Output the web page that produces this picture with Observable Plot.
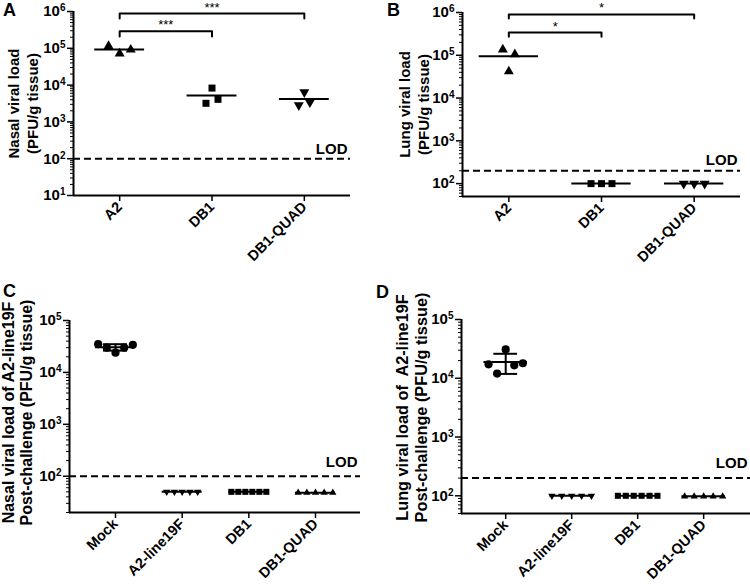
<!DOCTYPE html>
<html><head><meta charset="utf-8">
<script src="https://cdn.jsdelivr.net/npm/d3@7"></script>
<script src="https://cdn.jsdelivr.net/npm/@observablehq/plot@0.6"></script>
<style>
body{margin:0;background:#fff;}
#root{position:relative;width:750px;height:585px;overflow:hidden;font-family:"Liberation Sans",Arial,sans-serif;}
.panel{position:absolute;}
.letter{position:absolute;font:bold 18px "Liberation Sans",Arial,sans-serif;line-height:18px;}
</style></head><body><div id="root"></div>
<script>
// ---------- DATA ----------
// Panel A: nasal viral load
const groupsA = ["A2", "DB1", "DB1-QUAD"];
const valuesA = [[1.15e5, 7.2e4, 9.2e4], [3.2e3, 8.3e3, 4.1e3], [2.85e3, 6.4e3, 3.4e3]];
const symbolsA = ["triangle", "square", "triangleDown"];
const bracketsA = [
  {from: "A2", to: "DB1", label: "***", level: 2.9e5, tip: 2.1e5},
  {from: "A2", to: "DB1-QUAD", label: "***", level: 8.8e5, tip: 6.5e5}
];
const lodA = 100;

// Panel B: lung viral load
const groupsB = ["A2", "DB1", "DB1-QUAD"];
const valuesB = [[1.36e5, 4.2e4, 1.05e5], [100, 100, 100], [100, 100, 100]];
const symbolsB = ["triangle", "square", "triangleDown"];
const bracketsB = [
  {from: "A2", to: "DB1", label: "*", level: 3.4e5, tip: 2.7e5},
  {from: "A2", to: "DB1-QUAD", label: "*", level: 9e5, tip: 7.2e5}
];
const lodB = 200;

// Panel C: nasal viral load post-challenge
const groupsC = ["Mock", "A2-line19F", "DB1", "DB1-QUAD"];
const valuesC = [[3.5e4, 3.0e4, 2.4e4, 3.0e4, 3.4e4], [50, 50, 50, 50, 50], [50, 50, 50, 50, 50, 50], [48, 48, 48, 48, 48]];
const symbolsC = ["circle", "triangleDown", "square", "triangle"];
const lodC = 100;

// Panel D: lung viral load post-challenge
const groupsD = ["Mock", "A2-line19F", "DB1", "DB1-QUAD"];
const valuesD = [[1.73e4, 1.2e4, 3.1e4, 1.66e4, 1.8e4], [100, 100, 100, 100, 100], [100, 100, 100, 100, 100, 100], [98, 98, 98, 98, 98]];
const symbolsD = ["circle", "triangleDown", "square", "triangle"];
const lodD = 200;

// ---------- DRAWING ----------
const triangleDown = {
  draw(context, size) {
    const y = -Math.sqrt(size / (Math.sqrt(3) * 3));
    context.moveTo(0, -2 * y);
    context.lineTo(-Math.sqrt(3) * y, y);
    context.lineTo(Math.sqrt(3) * y, y);
    context.closePath();
  }
};
const symbolMap = {triangle: "triangle", square: "square", circle: "circle", triangleDown};
const FONT = '"Liberation Sans", Arial, sans-serif';

function makePanel(cfg) {
  const n = cfg.groups.length;
  const [y0, y1] = cfg.yDomain;
  const [x0, x1] = cfg.xDomain;
  const stats = cfg.values.map(vs => ({mean: d3.mean(vs), sd: d3.deviation(vs) || 0}));
  const marks = [];
  // LOD dashed line
  marks.push(Plot.ruleY([cfg.lod], {y: d => d, x1: () => x0, x2: () => x1, stroke: "black", strokeWidth: 2, strokeDasharray: "7,4"}));
  marks.push(Plot.text([cfg.lod], {x: () => x1, y: d => d, text: () => "LOD", textAnchor: "end", lineAnchor: "bottom", dx: -3, dy: -cfg.lodGap, fontSize: 15, fontWeight: "bold"}));
  // points
  cfg.values.forEach((vs, i) => {
    const m = vs.length;
    const pts = vs.map((v, j) => ({x: i + (j - (m - 1) / 2) * cfg.spread[i], y: v}));
    marks.push(Plot.dot(pts, {x: "x", y: "y", symbol: symbolMap[cfg.symbols[i]], r: cfg.r[cfg.symbols[i]], fill: "black", stroke: "none"}));
  });
  // mean lines
  marks.push(Plot.ruleY(stats.map((s, i) => ({i, y: s.mean})), {x1: d => d.i - cfg.meanHalf, x2: d => d.i + cfg.meanHalf, y: "y", stroke: "black", strokeWidth: 2}));
  // SD error bars
  if (cfg.sd) {
    const sdData = stats.map((s, i) => ({i, lo: s.mean - s.sd, hi: s.mean + s.sd})).filter(d => d.hi > d.lo);
    marks.push(Plot.ruleX(sdData, {x: "i", y1: "lo", y2: "hi", stroke: "black", strokeWidth: 2}));
    marks.push(Plot.ruleY(sdData.flatMap(d => [{i: d.i, y: d.lo}, {i: d.i, y: d.hi}]), {x1: d => d.i - cfg.capHalf, x2: d => d.i + cfg.capHalf, y: "y", stroke: "black", strokeWidth: 2}));
  }
  // significance brackets
  (cfg.brackets || []).forEach(b => {
    const ia = cfg.groups.indexOf(b.from), ib = cfg.groups.indexOf(b.to);
    marks.push(Plot.line([{x: ia, y: b.tip}, {x: ia, y: b.level}, {x: ib, y: b.level}, {x: ib, y: b.tip}], {x: "x", y: "y", stroke: "black", strokeWidth: 2}));
    marks.push(Plot.text([b], {x: () => (ia + ib) / 2, y: "level", text: "label", lineAnchor: "bottom", dy: -2, fontSize: 13, fontWeight: "normal"}));
  });
  // axes
  const majors = d3.range(Math.ceil(Math.log10(y0) - 1e-9), Math.floor(Math.log10(y1) + 1e-9) + 1).map(k => 10 ** k);
  const minors = d3.scaleLog().domain([y0, y1]).ticks().filter(v => !majors.some(mj => Math.abs(mj - v) / mj < 1e-9));
  marks.push(Plot.axisY(minors, {tickSize: 3, tickFormat: () => "", strokeWidth: 1, label: null}));
  marks.push(Plot.axisY(majors, {tickSize: 6, tickPadding: 2, tickFormat: d => "10^" + Math.round(Math.log10(d)), strokeWidth: 1.5, label: null, fontSize: 15, fontWeight: "bold"}));
  marks.push(Plot.axisX(d3.range(n), {tickFormat: i => cfg.groups[i], tickRotate: -45, tickSize: 6, tickPadding: 3, strokeWidth: 1.5, label: null, fontSize: 14.5, fontWeight: "bold"}));
  marks.push(Plot.ruleX([x0], {x: d => d, stroke: "black", strokeWidth: 2}));
  marks.push(Plot.ruleY([y0], {y: d => d, stroke: "black", strokeWidth: 2}));
  // y label
  marks.push(Plot.text([cfg.yLabel], {frameAnchor: "left", textAnchor: "middle", lineAnchor: "middle", text: d => d, rotate: -90, dx: cfg.yLabelDx, dy: cfg.yLabelDy || 0, lineHeight: cfg.yLabelLH, fontSize: cfg.yLabelSize, fontWeight: "bold"}));

  const svg = Plot.plot({
    width: cfg.width, height: cfg.height,
    marginTop: cfg.m[0], marginRight: cfg.m[1], marginBottom: cfg.m[2], marginLeft: cfg.m[3],
    x: {type: "linear", domain: [x0, x1], label: null},
    y: {type: "log", domain: [y0, y1], label: null},
    style: {fontFamily: FONT, fontSize: "14px", fontWeight: "bold", color: "black", background: "transparent", overflow: "visible"},
    marks
  });
  svg.querySelectorAll("text").forEach(t => {
    const s = t.textContent;
    if (!/^10\^-?\d+$/.test(s)) return;
    const [base, exp] = s.split("^");
    t.textContent = "";
    const ns = "http://www.w3.org/2000/svg";
    const a = document.createElementNS(ns, "tspan"); a.textContent = base;
    const b = document.createElementNS(ns, "tspan"); b.textContent = exp;
    b.setAttribute("dy", "-0.5em"); b.setAttribute("font-size", "10px");
    t.appendChild(a); t.appendChild(b);
  });
  const wrap = document.createElement("div");
  wrap.className = "panel";
  wrap.style.left = cfg.left + "px"; wrap.style.top = cfg.top + "px";
  wrap.appendChild(svg);
  document.getElementById("root").appendChild(wrap);
}

const rAB = {triangle: 3.7, square: 3.95, triangleDown: 3.7, circle: 4};
const rCD = {triangle: 2.7, square: 3.4, triangleDown: 2.7, circle: 4.1};

makePanel({left: 0, top: 0, width: 375, height: 290, m: [11, 25, 95, 73],
  groups: groupsA, values: valuesA, symbols: symbolsA, brackets: bracketsA, lod: lodA,
  xDomain: [-0.5, 2.5], yDomain: [10, 1e6], spread: [0.12, 0.065, 0.06], r: rAB,
  meanHalf: 0.27, sd: false, lodGap: 5,
  yLabel: "Nasal viral load\n(PFU/g tissue)", yLabelDx: -51.5, yLabelLH: 1.27, yLabelSize: 15});

makePanel({left: 375, top: 0, width: 375, height: 290, m: [12, 10, 94, 87],
  groups: groupsB, values: valuesB, symbols: symbolsB, brackets: bracketsB, lod: lodB,
  xDomain: [-0.5, 2.5], yDomain: [50, 1e6], spread: [0.065, 0.113, 0.113], r: rAB,
  meanHalf: 0.32, sd: false, lodGap: 6,
  yLabel: "Lung viral load\n(PFU/g tissue)", yLabelDx: -49, yLabelLH: 1.3, yLabelSize: 15});

makePanel({left: 0, top: 290, width: 375, height: 295, m: [30, 15, 73, 69],
  groups: groupsC, values: valuesC, symbols: symbolsC, lod: lodC,
  xDomain: [-0.69, 3.675], yDomain: [20, 1e5], spread: [0.13, 0.116, 0.105, 0.13], r: rCD,
  meanHalf: 0.3, sd: true, capHalf: 0.18, lodGap: 9,
  yLabel: "Nasal viral load of A2-line19F\nPost-challenge (PFU/g tissue)", yLabelDx: -52.5, yLabelDy: -4, yLabelLH: 1.18, yLabelSize: 16});

makePanel({left: 375, top: 290, width: 375, height: 295, m: [29, 0, 72, 86],
  groups: groupsD, values: valuesD, symbols: symbolsD, lod: lodD,
  xDomain: [-0.67, 3.71], yDomain: [50, 1e5], spread: [0.13, 0.15, 0.12, 0.144], r: rCD,
  meanHalf: 0.33, sd: true, capHalf: 0.18, lodGap: 10,
  yLabel: "Lung viral load of\u00a0 A2-line19F\nPost-challenge (PFU/g tissue)", yLabelDx: -50, yLabelDy: -9, yLabelLH: 1.15, yLabelSize: 16.3});

// panel letters
[["A", 3, 1], ["B", 387, 1], ["C", 3, 282], ["D", 376, 283]].forEach(([t, x, y]) => {
  const d = document.createElement("div");
  d.className = "letter"; d.textContent = t;
  d.style.left = x + "px"; d.style.top = y + "px";
  document.getElementById("root").appendChild(d);
});
</script></body></html>
